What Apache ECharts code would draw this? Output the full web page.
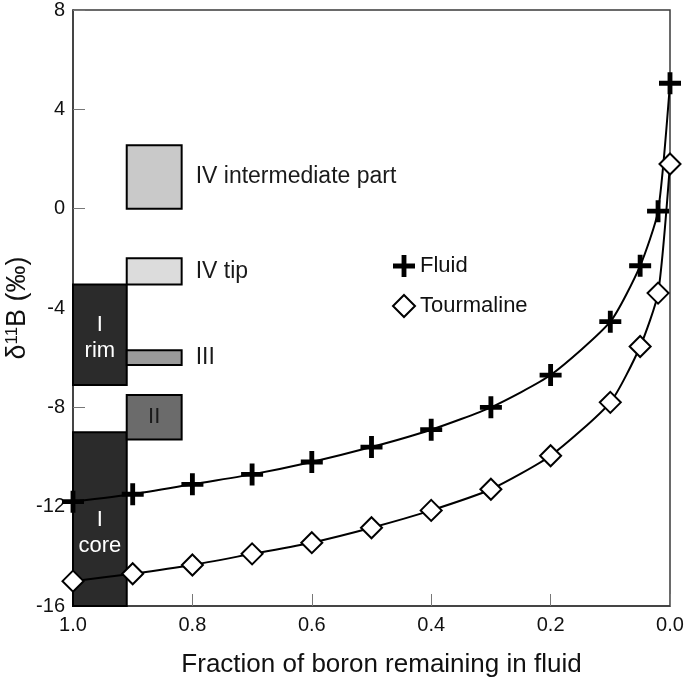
<!DOCTYPE html>
<html>
<head>
<meta charset="utf-8">
<script src="https://cdn.jsdelivr.net/npm/echarts@6/dist/echarts.min.js"></script>
<style>html,body{margin:0;padding:0;background:#fff}#c{width:685px;height:679px}</style>
</head>
<body>
<div id="c"></div>
<script>
// ---- data ----
var fractionX = [1.0, 0.9, 0.8, 0.7, 0.6, 0.5, 0.4, 0.3, 0.2, 0.1, 0.05, 0.02, 0.0];
var fluidY = [-11.8, -11.5, -11.1, -10.7, -10.2, -9.6, -8.9, -8.0, -6.7, -4.55, -2.3, -0.1, 5.05];
var tourmalineY = [-15.0, -14.7, -14.35, -13.9, -13.45, -12.85, -12.15, -11.3, -9.95, -7.8, -5.55, -3.4, 1.8];

var boxLabels = ['I\ncore', 'I\nrim', 'II', 'III', 'IV tip', 'IV intermediate part'];
var boxX0 = [1.0, 1.0, 0.91, 0.91, 0.91, 0.91];
var boxX1 = [0.91, 0.91, 0.818, 0.818, 0.818, 0.818];
var boxYLow = [-16, -7.1, -9.3, -6.3, -3.05, 0];
var boxYHigh = [-9, -3.05, -7.5, -5.7, -2, 2.55];

var yTicks = [-16, -12, -8, -4, 0, 4, 8];
var xTicks = [1.0, 0.8, 0.6, 0.4, 0.2, 0.0];

// ---- styling (not data) ----
var boxFill = ['#2b2b2b', '#2b2b2b', '#6b6b6b', '#9b9b9b', '#dcdcdc', '#c9c9c9'];
var boxInside = [true, true, true, false, false, false];
var boxTextColor = ['#ffffff', '#ffffff', '#1a1a1a', '#1a1a1a', '#1a1a1a', '#1a1a1a'];
var boxTextShift = [14, 3, 0, 0, 0, 0];

var FONT = 'Liberation Sans, Arial, Helvetica, sans-serif';
var plusPath = 'path://M3.9,0 H6.1 V3.9 H10 V6.1 H6.1 V10 H3.9 V6.1 H0 V3.9 H3.9 Z';

var boxData = boxLabels.map(function (l, i) {
  return [boxX0[i], boxX1[i], boxYLow[i], boxYHigh[i], i];
});
function pairs(xs, ys) { return xs.map(function (x, i) { return [x, ys[i]]; }); }

var chart = echarts.init(document.getElementById('c'), null, {renderer: 'canvas'});
chart.setOption({
  animation: false,
  backgroundColor: '#ffffff',
  textStyle: {fontFamily: FONT},
  grid: {left: 73, right: 15, top: 10, bottom: 73, show: true, borderColor: '#3a3a3a', borderWidth: 1.5,
    backgroundColor: 'transparent', containLabel: false, outerBoundsMode: 'none'},
  legend: {
    orient: 'vertical', left: 387, top: 250, itemGap: 17, itemWidth: 22, itemHeight: 22,
    textStyle: {fontFamily: FONT, fontSize: 22, color: '#111'},
    data: [
      {name: 'Fluid', icon: plusPath, itemStyle: {color: '#000', borderWidth: 0}},
      {name: 'Tourmaline', icon: 'diamond', itemStyle: {color: '#fff', borderColor: '#000', borderWidth: 2}}
    ]
  },
  xAxis: {
    type: 'value', inverse: true, min: 0, max: 1, interval: 0.2,
    name: 'Fraction of boron remaining in fluid', nameLocation: 'middle', nameGap: 46,
    nameTextStyle: {fontSize: 26, color: '#111', fontFamily: FONT, padding: [0, 0, 0, 20]},
    axisLine: {show: true, onZero: false, lineStyle: {color: '#3a3a3a', width: 1.5}},
    axisTick: {show: true, inside: true, length: 12, lineStyle: {color: '#777', width: 1}},
    axisLabel: {fontSize: 20, color: '#111', margin: 9, formatter: function (v) { return v.toFixed(1); }},
    splitLine: {show: false}
  },
  yAxis: {
    type: 'value', min: -16, max: 8, interval: 4,
    name: 'δ{sup|11}B (‰)', nameLocation: 'middle', nameGap: 42, nameRotate: 90, nameMoveOverlap: false,
    nameTextStyle: {fontSize: 27, color: '#111', fontFamily: FONT,
      rich: {sup: {fontSize: 17, verticalAlign: 'top', padding: [0, 0, 9, 0], fontFamily: FONT, color: '#111'}}},
    axisLine: {show: true, onZero: false, lineStyle: {color: '#3a3a3a', width: 1.5}},
    axisTick: {show: true, inside: true, length: 12, lineStyle: {color: '#777', width: 1}},
    axisLabel: {fontSize: 20, color: '#111', margin: 8},
    splitLine: {show: false}
  },
  series: [
    {
      type: 'custom', z: 1, silent: true,
      data: boxData,
      encode: {x: [0, 1], y: [2, 3]},
      renderItem: function (params, api) {
        var i = api.value(4);
        var pA = api.coord([api.value(0), api.value(3)]);
        var pB = api.coord([api.value(1), api.value(2)]);
        var x = Math.min(pA[0], pB[0]), y = Math.min(pA[1], pB[1]);
        var w = Math.abs(pB[0] - pA[0]), h = Math.abs(pB[1] - pA[1]);
        var children = [{
          type: 'rect', shape: {x: x, y: y, width: w, height: h},
          style: {fill: boxFill[i], stroke: '#000', lineWidth: 2}
        }];
        var tx, ty, align;
        if (boxInside[i]) { tx = x + w / 2; ty = y + h / 2 + boxTextShift[i]; align = 'center'; }
        else { tx = x + w + 14; ty = y + h / 2; align = 'left'; }
        children.push({
          type: 'text', x: tx, y: ty,
          style: {text: boxLabels[i], fill: boxTextColor[i], font: (boxInside[i] ? '22px ' : '23px ') + FONT, align: align, verticalAlign: 'middle', lineHeight: 26}
        });
        return {type: 'group', children: children};
      }
    },
    {
      name: 'Fluid', type: 'line', z: 3, data: pairs(fractionX, fluidY),
      smooth: 0.2, clip: false,
      symbol: plusPath, symbolSize: 22,
      lineStyle: {color: '#000', width: 2},
      itemStyle: {color: '#000', borderWidth: 0}
    },
    {
      name: 'Tourmaline', type: 'line', z: 3, data: pairs(fractionX, tourmalineY),
      smooth: 0.2, clip: false,
      symbol: 'diamond', symbolSize: 21,
      lineStyle: {color: '#000', width: 2},
      itemStyle: {color: '#fff', borderColor: '#000', borderWidth: 2}
    }
  ]
});
</script>
</body>
</html>
